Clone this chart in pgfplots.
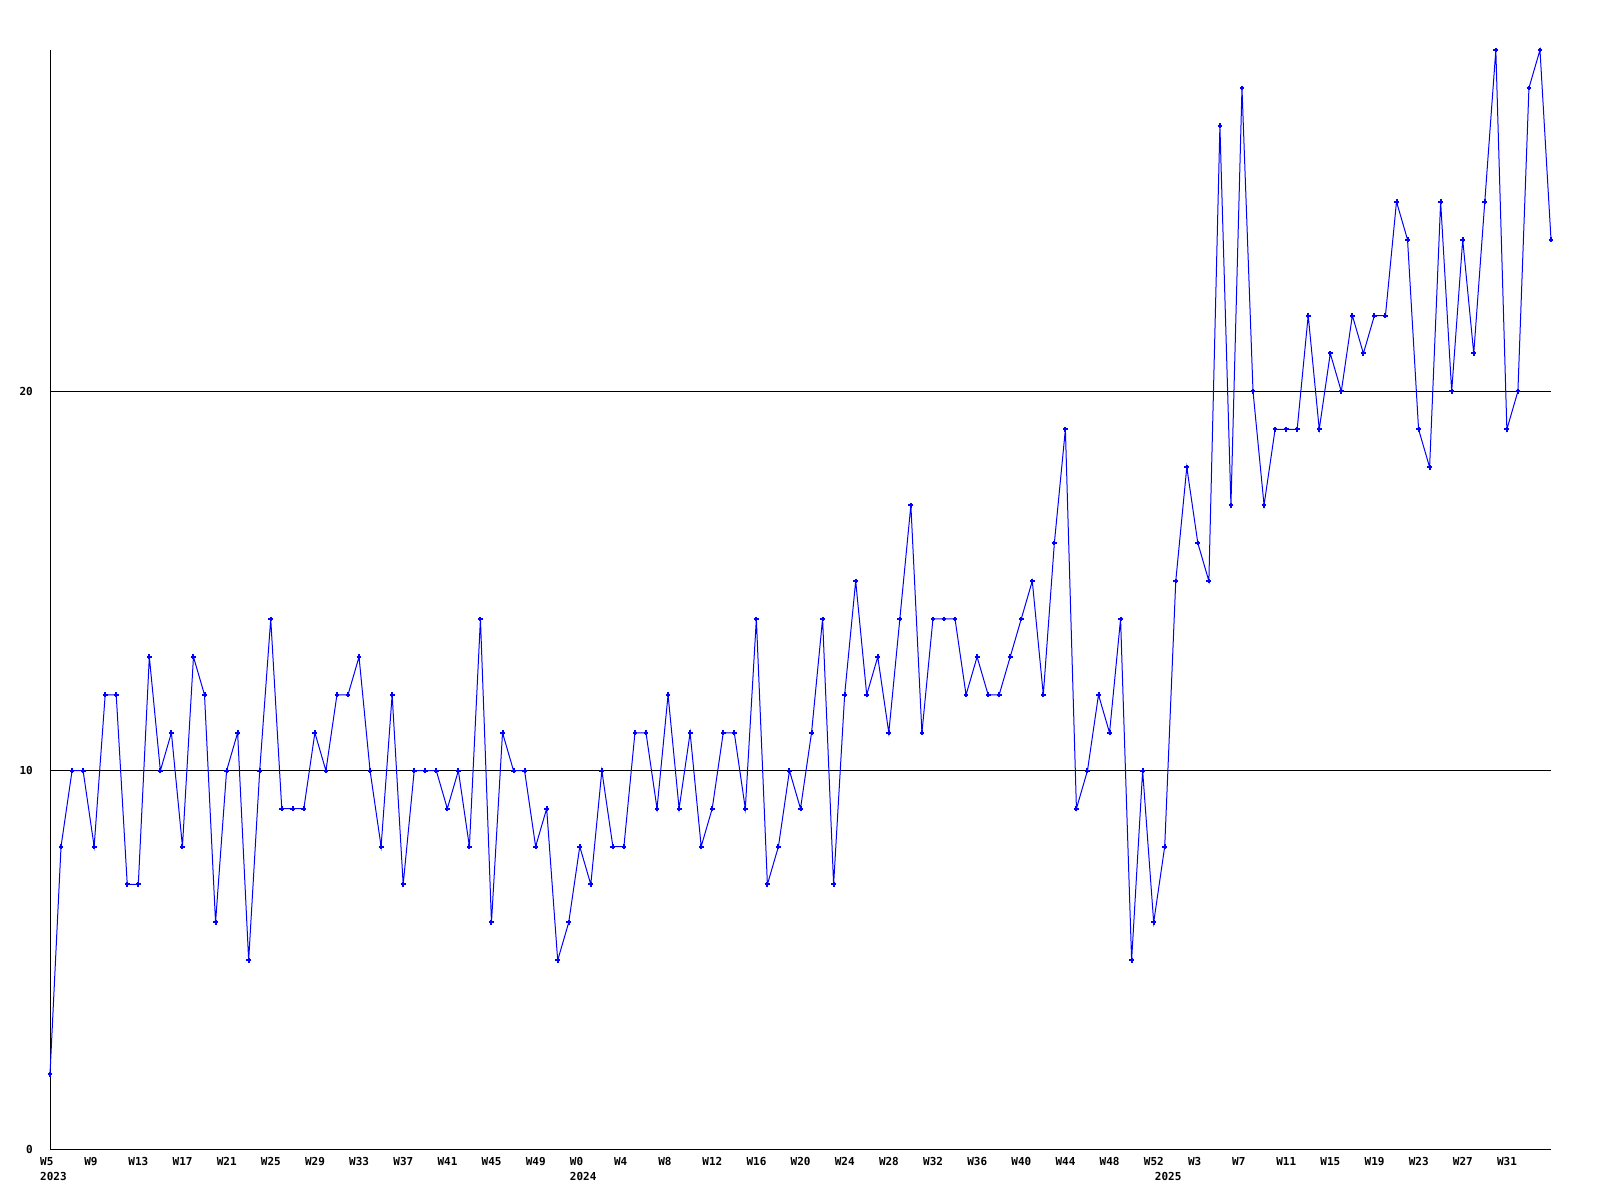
\documentclass[border=0pt]{standalone}
\usepackage{pgfplots}
\pgfplotsset{compat=1.18}
\usepackage{fontspec}
\setmonofont{DejaVu Sans Mono}
\begin{document}
\begin{tikzpicture}
\begin{axis}[
  scale only axis,
  width=1501pt, height=1100pt,
  xmin=0, xmax=136, ymin=0, ymax=29,
  axis lines*=left,
  axis line style={-, line width=1pt, black},
  ytick={0,10,20},
  ymajorgrids,
  grid style={black, line width=1pt},
  major tick length=0pt,
  /pgf/number format/assume math mode=true,
  xtick={0,4,8,12,16,20,24,28,32,36,40,44,48,52,56,60,64,68,72,76,80,84,88,92,96,100,104,108,112,116,120,124,128,132},
  xticklabels={W5,W9,W13,W17,W21,W25,W29,W33,W37,W41,W45,W49,W0,W4,W8,W12,W16,W20,W24,W28,W32,W36,W40,W44,W48,W52,W3,W7,W11,W15,W19,W23,W27,W31},
  extra x ticks={0,48,101},
  extra x tick labels={2023,2024,2025},
  extra x tick style={xticklabel style={yshift=-15pt}, major tick length=0pt},
  ticklabel style={font=\ttfamily\bfseries\fontsize{11}{13}\selectfont},
  xticklabel style={anchor=north west, inner sep=0pt, xshift=-10pt, yshift=-7pt},
  yticklabel style={anchor=east, inner sep=0pt, xshift=-17pt},
  clip=false,
]
\addplot[color={rgb,255:red,0;green,0;blue,255}, line width=1pt, mark=+, mark size=2.4pt, mark options={line width=2pt}] table[x=i, y=v] {
i v
0 2
1 8
2 10
3 10
4 8
5 12
6 12
7 7
8 7
9 13
10 10
11 11
12 8
13 13
14 12
15 6
16 10
17 11
18 5
19 10
20 14
21 9
22 9
23 9
24 11
25 10
26 12
27 12
28 13
29 10
30 8
31 12
32 7
33 10
34 10
35 10
36 9
37 10
38 8
39 14
40 6
41 11
42 10
43 10
44 8
45 9
46 5
47 6
48 8
49 7
50 10
51 8
52 8
53 11
54 11
55 9
56 12
57 9
58 11
59 8
60 9
61 11
62 11
63 9
64 14
65 7
66 8
67 10
68 9
69 11
70 14
71 7
72 12
73 15
74 12
75 13
76 11
77 14
78 17
79 11
80 14
81 14
82 14
83 12
84 13
85 12
86 12
87 13
88 14
89 15
90 12
91 16
92 19
93 9
94 10
95 12
96 11
97 14
98 5
99 10
100 6
101 8
102 15
103 18
104 16
105 15
106 27
107 17
108 28
109 20
110 17
111 19
112 19
113 19
114 22
115 19
116 21
117 20
118 22
119 21
120 22
121 22
122 25
123 24
124 19
125 18
126 25
127 20
128 24
129 21
130 25
131 29
132 19
133 20
134 28
135 29
136 24
};
\end{axis}
\path ([shift={(-50pt,-50pt)}]current axis.south west) rectangle ([shift={(49pt,50pt)}]current axis.north east);
\end{tikzpicture}
\end{document}
